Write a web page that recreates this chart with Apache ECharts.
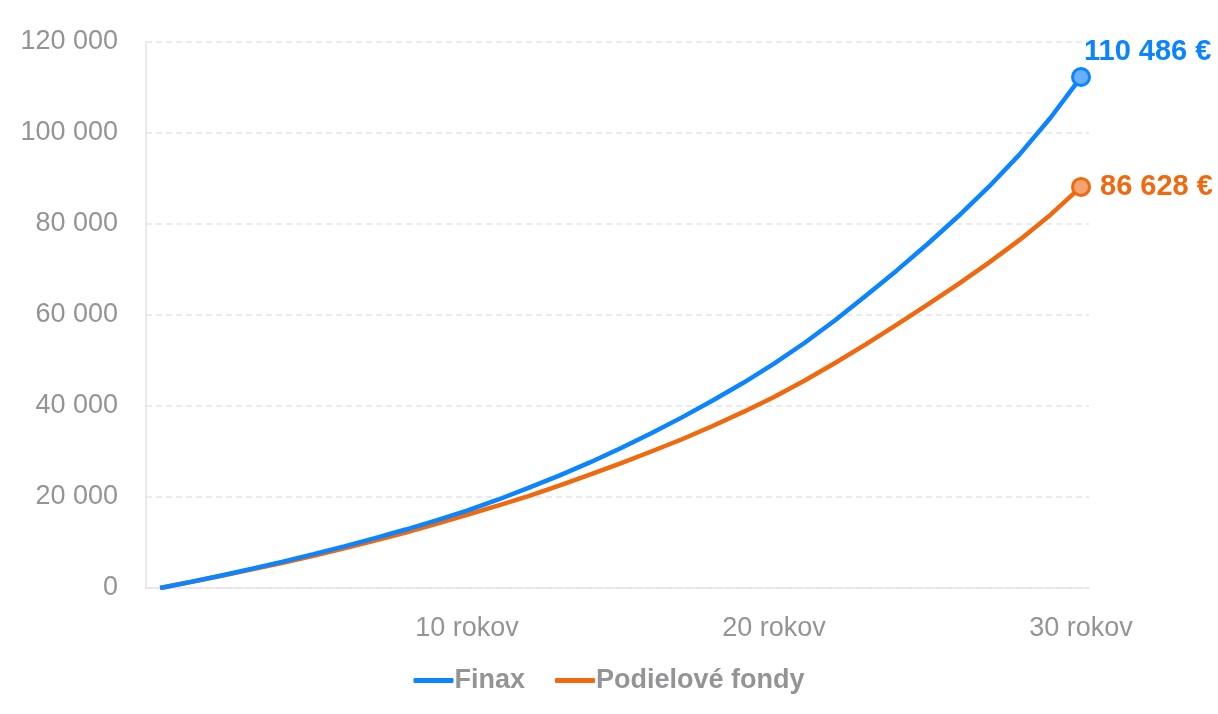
<!DOCTYPE html>
<html>
<head>
<meta charset="utf-8">
<script src="https://cdn.jsdelivr.net/npm/echarts@6/dist/echarts.min.js"></script>
<style>
  html, body { margin: 0; padding: 0; background: #ffffff; }
  #chart { width: 1218px; height: 714px; }
</style>
</head>
<body>
<div id="chart"></div>
<script>
// ---- data ----
const years = [0,1,2,3,4,5,6,7,8,9,10,11,12,13,14,15,16,17,18,19,20,21,22,23,24,25,26,27,28,29,30];
const finax = [0,1350,2750,4250,5800,7450,9150,10950,12850,14850,17000,19400,22000,24700,27600,30700,34000,37500,41200,45100,49300,53900,58900,64300,69800,75600,81700,88200,95300,103300,112300];
const podielove = [0,1320,2680,4100,5550,7100,8700,10400,12200,14100,16100,18100,20200,22500,24900,27400,30000,32700,35600,38700,42000,45600,49500,53600,57900,62300,66800,71500,76500,82000,88150];
const seriesNames = ['Finax', 'Podielové fondy'];
const endLabels = ['110 486 €', '86 628 €'];
const xTickValues = [10, 20, 30];
const xTickSuffix = ' rokov';
const yTicks = [0, 20000, 40000, 60000, 80000, 100000, 120000];

const BLUE = '#0a84ff', BLUE_FILL = '#66b0ff';
const ORANGE = '#f0690f', ORANGE_FILL = '#f4a470';
const GRAY = '#949497';
const LINE = '#e3e5ec';
const FONT = 'Liberation Sans, Arial, sans-serif';

const pairs = (vals) => years.map((y, i) => [y, vals[i]]);
const last = years.length - 1;

function fmt(v) {
  return String(v).replace(/\B(?=(\d{3})+(?!\d))/g, ' ');
}

const chart = echarts.init(document.getElementById('chart'), null, { renderer: 'canvas' });
chart.setOption({
  animation: false,
  backgroundColor: '#ffffff',
  grid: { left: 146, right: 129, top: 42, bottom: 126 },
  legend: {
    data: seriesNames,
    left: 'center',
    top: 662,
    icon: 'roundRect',
    itemWidth: 40,
    itemHeight: 5,
    itemGap: 30,
    textStyle: { color: GRAY, fontSize: 27, fontWeight: 'bold', fontFamily: FONT, padding: [0, 0, 0, -4] }
  },
  xAxis: {
    type: 'value',
    min: -0.46,
    max: 30.26,
    axisLine: { show: true, onZero: false, lineStyle: { color: LINE, width: 1.5 } },
    axisTick: { show: false },
    splitLine: { show: false },
    axisLabel: {
      customValues: xTickValues,
      formatter: (v) => v + xTickSuffix,
      color: GRAY,
      fontSize: 27,
      margin: 27,
      fontFamily: FONT
    }
  },
  yAxis: {
    type: 'value',
    min: yTicks[0],
    max: yTicks[yTicks.length - 1],
    interval: yTicks[1] - yTicks[0],
    axisLine: { show: true, onZero: false, lineStyle: { color: LINE, width: 1.5 } },
    axisTick: { show: false },
    splitLine: { show: true, lineStyle: { color: LINE, width: 1.5, type: [6, 4] } },
    axisLabel: {
      formatter: (v) => fmt(v),
      color: GRAY,
      fontSize: 27,
      margin: 28,
      padding: [6, 0, 0, 0],
      fontFamily: FONT
    }
  },
  series: [
    {
      name: seriesNames[0],
      type: 'line',
      data: pairs(finax),
      showSymbol: false,
      symbol: 'none',
      lineStyle: { color: BLUE, width: 4.5 },
      itemStyle: { color: BLUE },
      z: 3
    },
    {
      name: seriesNames[1],
      type: 'line',
      data: pairs(podielove),
      showSymbol: false,
      symbol: 'none',
      lineStyle: { color: ORANGE, width: 4.5 },
      itemStyle: { color: ORANGE },
      z: 2
    },
    {
      name: 'endFinax',
      type: 'scatter',
      data: [[years[last], finax[last]]],
      symbol: 'circle',
      symbolSize: 17,
      itemStyle: { color: BLUE_FILL, borderColor: BLUE, borderWidth: 3, opacity: 1 },
      label: {
        show: true,
        position: 'right',
        offset: [-12, -25],
        formatter: () => endLabels[0],
        color: BLUE,
        fontSize: 29,
        fontWeight: 'bold',
        fontFamily: FONT
      },
      z: 5
    },
    {
      name: 'endPodielove',
      type: 'scatter',
      data: [[years[last], podielove[last]]],
      symbol: 'circle',
      symbolSize: 17,
      itemStyle: { color: ORANGE_FILL, borderColor: ORANGE, borderWidth: 3, opacity: 1 },
      label: {
        show: true,
        position: 'right',
        offset: [4, 0],
        formatter: () => endLabels[1],
        color: ORANGE,
        fontSize: 29,
        fontWeight: 'bold',
        fontFamily: FONT
      },
      z: 5
    }
  ]
});
</script>
</body>
</html>
